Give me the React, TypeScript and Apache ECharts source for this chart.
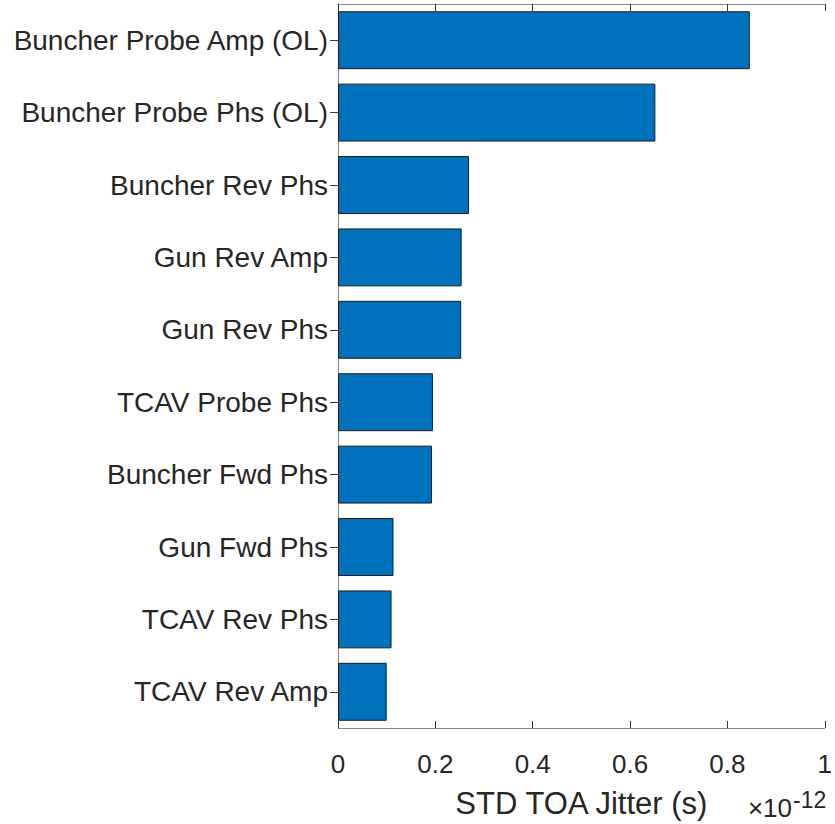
import React, { useEffect, useRef } from "react";
import * as echarts from "echarts";

const categories = [
  "Buncher Probe Amp (OL)",
  "Buncher Probe Phs (OL)",
  "Buncher Rev Phs",
  "Gun Rev Amp",
  "Gun Rev Phs",
  "TCAV Probe Phs",
  "Buncher Fwd Phs",
  "Gun Fwd Phs",
  "TCAV Rev Phs",
  "TCAV Rev Amp",
];
// STD TOA jitter in units of 1e-12 s
const jitterValues = [0.846, 0.652, 0.269, 0.254, 0.253, 0.195, 0.193, 0.114, 0.11, 0.1];
const xTicks = [0, 0.2, 0.4, 0.6, 0.8, 1];
const axisName = "STD TOA Jitter (s)";
const scaleBase = "×10";
const scaleExp = "-12";

const FONT = "'Liberation Sans', Arial, Helvetica, sans-serif";
const TXT = "#262626";
const BOX = "#8a8a8a";
const TICK = "#333333";

export default function App() {
  const ref = useRef<HTMLDivElement>(null);
  useEffect(() => {
    if (!ref.current) return;
    const chart = echarts.init(ref.current, undefined, { renderer: "svg" });
    const gridL = 338, gridT = 4, gridW = 489, gridH = 733;
    chart.setOption({
      animation: false,
      backgroundColor: "#ffffff",
      grid: { left: gridL, top: gridT, width: gridW, height: gridH, containLabel: false },
      xAxis: [
        {
          type: "value",
          min: 0,
          max: 1,
          interval: 0.2,
          position: "bottom",
          axisLine: { show: true, lineStyle: { color: BOX, width: 1 } },
          axisTick: { show: true, inside: true, length: 7, lineStyle: { color: TICK } },
          splitLine: { show: false },
          axisLabel: {
            color: TXT,
            fontSize: 26,
            fontFamily: FONT,
            margin: 23,
            formatter: (v: number) => (xTicks.some((t) => Math.abs(t - v) < 1e-9) ? String(+v.toFixed(1)) : ""),
          },
          name: axisName,
          nameLocation: "middle",
          nameGap: 60,
          nameTextStyle: { color: TXT, fontSize: 31, fontFamily: FONT },
        },
        {
          type: "value",
          min: 0,
          max: 1,
          interval: 0.2,
          position: "top",
          axisLine: { show: true, lineStyle: { color: BOX, width: 1 } },
          axisTick: { show: true, inside: true, length: 7, lineStyle: { color: TICK } },
          splitLine: { show: false },
          axisLabel: { show: false },
        },
      ],
      yAxis: [
        {
          type: "category",
          data: categories,
          inverse: true,
          position: "left",
          axisLine: { show: true, lineStyle: { color: BOX, width: 1 } },
          axisTick: { show: true, inside: true, length: 8, alignWithLabel: true, interval: 0, lineStyle: { color: TICK } },
          axisLabel: { color: TXT, fontSize: 28, fontFamily: FONT, margin: 10, interval: 0 },
        },
        {
          type: "category",
          data: categories,
          inverse: true,
          position: "right",
          axisLine: { show: true, lineStyle: { color: BOX, width: 1 } },
          axisTick: { show: true, inside: true, length: 8, alignWithLabel: true, interval: 0, lineStyle: { color: TICK } },
          axisLabel: { show: false },
        },
      ],
      series: [
        {
          type: "bar",
          xAxisIndex: 0,
          yAxisIndex: 0,
          data: jitterValues,
          barWidth: "80%",
          itemStyle: { color: "#0072BD", borderColor: "#1a1a1a", borderWidth: 1 },
          silent: true,
        },
      ],
      graphic: [
        {
          type: "text",
          style: {
            x: 792,
            y: 808,
            text: scaleBase,
            fontSize: 26,
            fontFamily: FONT,
            fill: TXT,
            align: "right",
            verticalAlign: "middle",
          },
        },
        {
          type: "text",
          style: {
            x: 793,
            y: 800,
            text: scaleExp,
            fontSize: 23,
            fontFamily: FONT,
            fill: TXT,
            align: "left",
            verticalAlign: "middle",
          },
        },
      ],
    });
    return () => chart.dispose();
  }, []);
  return (
    <div
      ref={ref}
      style={{ position: "fixed", left: 0, top: 0, width: 835, height: 824, background: "#fff" }}
    />
  );
}
